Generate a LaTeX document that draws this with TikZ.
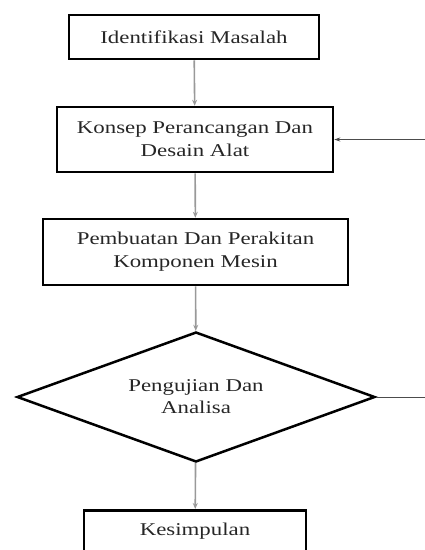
\documentclass[tikz,border=0pt]{standalone}
\usepackage{fontspec}
\setmainfont{Liberation Serif}[FakeStretch=1.27]
\usetikzlibrary{shapes.geometric,arrows.meta}
\tikzset{
  boxnode/.style={draw=black, line width=2.5pt, inner sep=0pt, align=center,
    font=\fontsize{18}{23}\selectfont, text=black!85},
  decnode/.style={draw=black, line width=2.5pt, diamond, inner sep=0pt, aspect=2.75,
    align=center, font=\fontsize{18}{22}\selectfont, text=black!85},
  flow/.style={draw=gray!80, line width=1.6pt, -{Stealth[length=6pt,width=5pt]}},
  back/.style={draw=black!70, line width=1pt, -{Stealth[length=6pt,width=4pt]}}
}
\begin{document}
\begin{tikzpicture}[x=1pt,y=-1pt]
\useasboundingbox (0,0) rectangle (424,550);
\node[boxnode, minimum width=250pt, minimum height=44pt] (b1) at (194,37) {Identifikasi Masalah};
\node[boxnode, minimum width=276pt, minimum height=65pt] (b2) at (195,139.5) {Konsep Perancangan Dan\\Desain Alat};
\node[boxnode, minimum width=305pt, minimum height=66pt] (b3) at (195.5,252) {Pembuatan Dan Perakitan\\Komponen Mesin};
\node[decnode, minimum width=358pt, minimum height=130pt] (d) at (196,397) {Pengujian Dan\\Analisa};
\node[boxnode, minimum width=222pt, text height=25pt, text depth=40pt, anchor=north] (b5) at (195,509) {Kesimpulan};
\coordinate (r) at (440,0);
\draw[flow] (b1) -- (b2);
\draw[flow] (b2) -- (b3);
\draw[flow] (b3) -- (d);
\draw[flow] (d) -- (b5);
\draw[back] (d.east) -- (d.east -| r) -- (b2.east -| r) -- (b2.east);
\end{tikzpicture}
\end{document}
